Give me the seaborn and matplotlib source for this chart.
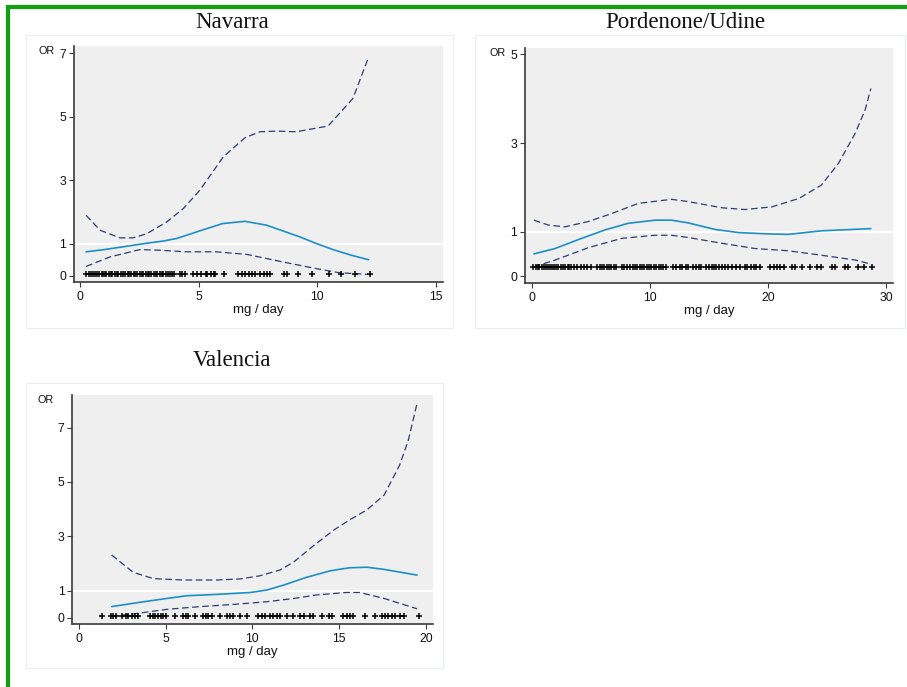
import numpy as np
import pandas as pd
import matplotlib
matplotlib.use("Agg")
import matplotlib.pyplot as plt
from matplotlib.patches import Rectangle
from matplotlib.lines import Line2D
import seaborn as sns

# ---- Navarra ----
nav_x = [0.24, 1.0, 2.0, 2.8, 3.5, 4.06, 5.0, 6.0, 6.94, 7.85, 8.5, 9.26, 9.96, 10.66, 11.4, 12.16]
nav_or = [0.75, 0.82, 0.93, 1.02, 1.09, 1.17, 1.40, 1.64, 1.71, 1.59, 1.42, 1.22, 1.01, 0.82, 0.65, 0.50]
nav_up_x = [0.24, 0.83, 1.67, 2.23, 2.8, 3.64, 4.34, 5.04, 6.03, 6.94, 7.57, 8.27, 9.1, 10.45, 11.5, 12.16]
nav_up = [1.90, 1.43, 1.19, 1.19, 1.32, 1.69, 2.11, 2.69, 3.74, 4.34, 4.53, 4.55, 4.53, 4.71, 5.58, 6.88]
nav_lo_x = [0.24, 1.25, 2.51, 3.36, 4.48, 5.74, 7.01, 8.55, 9.96, 10.94, 12.16]
nav_lo = [0.29, 0.59, 0.82, 0.80, 0.75, 0.75, 0.67, 0.43, 0.22, 0.09, 0.04]
nav_dose = [0.25, 0.35, 0.45, 0.55, 0.62, 0.7, 0.8, 0.9, 0.95, 1.05, 1.1, 1.2, 1.3, 1.35,
            1.45, 1.55, 1.6, 1.7, 1.8, 1.9, 2.0, 2.05, 2.15, 2.25, 2.3, 2.4, 2.5, 2.6,
            2.65, 2.75, 2.85, 2.9, 3.0, 3.1, 3.2, 3.25, 3.35, 3.45, 3.5, 3.6, 3.7, 3.8,
            3.85, 3.95, 4.2, 4.3, 4.4, 4.77, 4.91, 5.1, 5.28, 5.35, 5.49, 5.63, 5.7,
            6.06, 6.67, 6.81, 6.95, 7.1, 7.24, 7.38, 7.59, 7.73, 7.87, 8.0, 8.57, 8.71,
            9.2, 9.76, 10.5, 10.99, 11.59, 12.22]

# ---- Pordenone/Udine ----
por_x = [0.14, 1.92, 4.18, 6.16, 8.14, 10.4, 11.8, 13.2, 15.5, 17.5, 20.0, 21.7, 24.5, 28.7]
por_or = [0.50, 0.62, 0.85, 1.04, 1.19, 1.26, 1.26, 1.20, 1.05, 0.98, 0.95, 0.94, 1.02, 1.07]
por_up_x = [0.14, 1.36, 2.77, 4.75, 6.73, 9.0, 11.8, 13.2, 16.06, 18.0, 20.3, 22.6, 24.5, 25.95, 27.37, 28.2, 28.7]
por_up = [1.26, 1.15, 1.11, 1.23, 1.41, 1.64, 1.73, 1.68, 1.54, 1.50, 1.56, 1.75, 2.05, 2.54, 3.22, 3.74, 4.23]
por_lo_x = [0.14, 1.92, 4.75, 7.58, 10.4, 11.8, 13.2, 16.06, 18.9, 21.7, 24.5, 27.4, 28.7]
por_lo = [0.21, 0.36, 0.64, 0.85, 0.92, 0.92, 0.87, 0.74, 0.62, 0.57, 0.47, 0.36, 0.27]
por_dose = [0.1, 0.3, 0.45, 0.6, 0.8, 1.0, 1.2, 1.35, 1.5, 1.7, 1.85, 2.0, 2.2, 2.4, 2.6,
            2.8, 3.0, 3.1, 3.3, 3.5, 3.8, 4.1, 4.4, 4.6, 5.0, 5.5, 5.7, 5.9, 6.1, 6.3,
            6.5, 6.7, 6.9, 7.1, 7.6, 7.8, 8.0, 8.3, 8.5, 8.7, 8.9, 9.1, 9.3, 9.5, 9.7,
            9.9, 10.1, 10.3, 10.5, 10.7, 10.9, 11.1, 11.3, 11.9, 12.2, 12.5, 12.7, 13.0,
            13.2, 13.6, 13.9, 14.1, 14.3, 14.7, 15.0, 15.2, 15.4, 15.6, 15.8, 16.1, 16.3,
            16.6, 16.9, 17.3, 17.6, 18.0, 18.2, 18.5, 18.8, 19.0, 19.3, 20.16, 20.45,
            20.73, 21.0, 21.3, 22.0, 22.3, 22.85, 23.55, 24.12, 24.5, 25.4, 25.7, 26.5,
            26.8, 27.65, 28.1, 28.8]

# ---- Valencia ----
val_x = [1.88, 3.52, 5.06, 6.21, 7.94, 9.87, 10.83, 11.79, 13.13, 14.5, 15.6, 16.6, 17.6, 19.5]
val_or = [0.41, 0.57, 0.71, 0.81, 0.86, 0.93, 1.02, 1.20, 1.49, 1.73, 1.84, 1.86, 1.78, 1.57]
val_up_x = [1.88, 3.13, 4.29, 6.0, 7.94, 9.3, 10.4, 11.6, 12.4, 13.5, 14.7, 15.6, 16.6, 17.6, 18.5, 19.0, 19.5]
val_up = [2.31, 1.67, 1.44, 1.39, 1.39, 1.43, 1.54, 1.76, 2.06, 2.64, 3.23, 3.60, 3.97, 4.52, 5.63, 6.55, 7.90]
val_lo_x = [1.88, 3.13, 5.06, 6.98, 8.9, 10.83, 12.4, 13.7, 15.4, 16.2, 17.6, 19.5]
val_lo = [0.05, 0.14, 0.31, 0.41, 0.49, 0.59, 0.71, 0.84, 0.93, 0.93, 0.71, 0.33]
val_dose = [1.31, 1.83, 1.98, 2.14, 2.46, 2.69, 2.85, 3.04, 3.23, 3.42, 4.1, 4.25, 4.4,
            4.56, 4.71, 4.87, 5.02, 5.54, 6.02, 6.17, 6.31, 6.69, 7.17, 7.33, 7.46, 7.66,
            8.14, 8.52, 8.71, 8.9, 9.29, 9.67, 10.35, 10.54, 10.73, 11.02, 11.21, 11.4,
            11.6, 11.98, 12.37, 12.75, 12.95, 13.33, 13.52, 14.0, 14.39, 14.58, 15.25,
            15.44, 15.64, 15.83, 16.5, 17.08, 17.47, 17.66, 17.85, 18.04, 18.23, 18.52,
            18.72, 19.59]

sns.set_style("white")
plt.rcParams["font.family"] = ["Liberation Sans", "DejaVu Sans"]

W, H = 907, 687
fig = plt.figure(figsize=(W / 100, H / 100), dpi=100)
fig.patch.set_facecolor("white")

EST_COLOR = "#1c8fc7"
CI_COLOR = "#2b3d72"
BG = "#efefef"
AX_COLOR = "#3a3a3a"


def px_axes(left, top, right, bottom):
    return fig.add_axes([left / W, 1 - bottom / H, (right - left) / W, (bottom - top) / H])


panels = [
    dict(title="Navarra", box=(74, 46, 443, 282), frame=(26, 35, 453, 328), tpos=(232, 22),
         x=nav_x, est=nav_or, ux=nav_up_x, up=nav_up, lx=nav_lo_x, lo=nav_lo,
         dose=nav_dose, rug_y=0.04, xlim=(-0.27, 15.3), ylim=(-0.2, 7.23),
         xticks=[0, 5, 10, 15], yticks=[0, 1, 3, 5, 7]),
    dict(title="Pordenone/Udine", box=(525, 47.7, 893.3, 282.7), frame=(475, 35, 905, 328),
         tpos=(685, 22),
         x=por_x, est=por_or, ux=por_up_x, up=por_up, lx=por_lo_x, lo=por_lo,
         dose=por_dose, rug_y=0.2, xlim=(-0.62, 30.6), ylim=(-0.15, 5.15),
         xticks=[0, 10, 20, 30], yticks=[0, 1, 3, 5]),
    dict(title="Valencia", box=(72.3, 395, 432.7, 624), frame=(26, 383, 443, 668),
         tpos=(232, 361),
         x=val_x, est=val_or, ux=val_up_x, up=val_up, lx=val_lo_x, lo=val_lo,
         dose=val_dose, rug_y=0.06, xlim=(-0.39, 20.4), ylim=(-0.23, 8.2),
         xticks=[0, 5, 10, 15, 20], yticks=[0, 1, 3, 5, 7]),
]

for p in panels:
    fl, ft, fr, fb = p["frame"]
    fig.add_artist(Rectangle((fl / W, 1 - fb / H), (fr - fl) / W, (fb - ft) / H,
                             transform=fig.transFigure, fill=False,
                             edgecolor="#ebeeee", linewidth=0.8))
    fig.text(p["tpos"][0] / W, 1 - p["tpos"][1] / H, p["title"], ha="center", va="center",
             fontsize=16.5, family=["Liberation Serif", "DejaVu Serif"], color="#111111")

    ax = px_axes(*p["box"])
    ax.set_facecolor(BG)
    ax.axhline(1, color="white", lw=1.6, zorder=1.5)

    sns.lineplot(x=p["ux"], y=p["up"], ax=ax, color=CI_COLOR, lw=0.9,
                 linestyle=(0, (5.3, 2.8)), zorder=3)
    sns.lineplot(x=p["lx"], y=p["lo"], ax=ax, color=CI_COLOR, lw=0.9,
                 linestyle=(0, (5.3, 2.8)), zorder=3)
    sns.lineplot(x=p["x"], y=p["est"], ax=ax, color=EST_COLOR, lw=1.2, zorder=4)
    sns.scatterplot(x=p["dose"], y=[p["rug_y"]] * len(p["dose"]), ax=ax, marker="+",
                    color="black", s=16, linewidth=1.1, zorder=5)

    ax.set_xlim(*p["xlim"])
    ax.set_ylim(*p["ylim"])
    ax.set_xticks(p["xticks"])
    ax.set_yticks(p["yticks"])
    ax.set_xticklabels([str(t) for t in p["xticks"]])
    ax.set_yticklabels([str(t) for t in p["yticks"]])
    for s in ["top", "right"]:
        ax.spines[s].set_visible(False)
    for s in ["left", "bottom"]:
        ax.spines[s].set_color(AX_COLOR)
        ax.spines[s].set_linewidth(1.2)
    ax.tick_params(axis="both", which="major", direction="out", length=3.5, width=0.8,
                   color=AX_COLOR, labelsize=8.8, labelcolor="#111111",
                   left=True, bottom=True)
    ax.tick_params(axis="y", pad=2)
    ax.tick_params(axis="x", pad=3)
    ax.set_xlabel("mg / day", fontsize=9.5, color="#111111", labelpad=1)
    ax.set_ylabel("")
    ax.annotate("OR", xy=(0, 1), xycoords="axes fraction", xytext=(-27, -5),
                textcoords="offset pixels", ha="center", va="center",
                fontsize=7.8, color="#111111")

# green border along top and left edges
GREEN = "#12a012"
fig.add_artist(Line2D([6 / W, 1.0], [1 - 7 / H, 1 - 7 / H], transform=fig.transFigure,
                      color=GREEN, linewidth=3.0, solid_capstyle="butt"))
fig.add_artist(Line2D([8 / W, 8 / W], [1 - 5 / H, 0.0], transform=fig.transFigure,
                      color=GREEN, linewidth=3.0, solid_capstyle="butt"))

fig.savefig("out.png", dpi=100, facecolor="white")
